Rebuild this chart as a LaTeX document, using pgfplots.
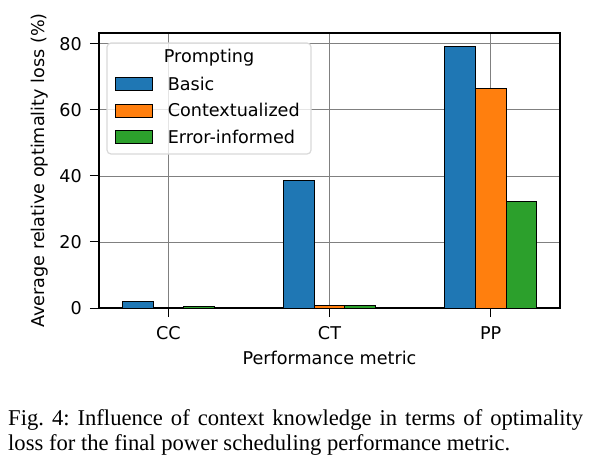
\documentclass[border=0pt]{standalone}
\usepackage{pgfplots}
\pgfplotsset{compat=1.18}
\usepackage{fontspec}
\setmainfont{DejaVu Sans}
\newfontfamily\capfont{Liberation Serif}
\definecolor{tabblue}{HTML}{1F77B4}
\definecolor{taborange}{HTML}{FF7F0E}
\definecolor{tabgreen}{HTML}{2CA02C}
\newcommand{\chartfont}{\fontsize{17.6}{20}\selectfont}
\begin{document}
\begin{tikzpicture}
\path[use as bounding box] (0,0) rectangle (589pt,-464pt);
\begin{axis}[
    at={(99pt,-308pt)}, anchor=south west,
    scale only axis,
    width=461pt, height=275pt,
    xmin=-0.43, xmax=2.43,
    ymin=0, ymax=83.3,
    xtick={0,1,2},
    xticklabels={CC,CT,PP},
    ytick={0,20,40,60,80},
    /pgf/number format/assume math mode=true,
    tick align=outside,
    major tick length=9pt,
    tick style={black, line width=1pt},
    xtick pos=bottom, ytick pos=left,
    axis line style={line width=1.3pt},
    grid=major,
    major grid style={gray, line width=0.9pt},
    every tick label/.append style={font=\chartfont, inner sep=0pt},
    yticklabel style={anchor=east, xshift=-8pt},
    xticklabel style={anchor=base, yshift=-22pt},
    xlabel={Performance metric},
    ylabel={Average relative optimality loss (\%)},
    label style={font=\chartfont, inner sep=0pt},
    xlabel style={at={([yshift=-56pt]axis description cs:0.5,0)}, anchor=base},
    ylabel style={at={([xshift=-51pt]axis description cs:0,0.5)}, anchor=south, rotate=0},
    ybar, bar width=0.19,
    legend style={at={([xshift=8pt,yshift=-28pt]rel axis cs:0.0174,0.9636)}, anchor=north west,
        draw=none, fill=none, font=\chartfont, row sep=0pt, column sep=15pt,
        inner sep=0pt, outer sep=0pt,
        nodes={inner sep=0pt, anchor=west, minimum height=26.5pt}},
    legend cell align=left,
]
\draw[draw=black!15, line width=1.2pt, fill=white, fill opacity=0.8, rounded corners=4pt]
    (rel axis cs:0.0174,0.9636) rectangle (rel axis cs:0.46,0.56);
\node[font=\chartfont] at ([yshift=-15pt]rel axis cs:0.2387,0.9636) {Prompting};
\addplot[fill=tabblue, draw=black, line width=0.8pt, bar shift=-0.19,
    legend image code/.code={\draw[fill=tabblue, draw=black, line width=0.8pt] (0pt,-6.5pt) rectangle (37pt,6.5pt);}]
    coordinates {(0,2.0) (1,38.6) (2,79.3)};
\addlegendentry{Basic}
\addplot[fill=taborange, draw=black, line width=0.8pt, bar shift=0,
    legend image code/.code={\draw[fill=taborange, draw=black, line width=0.8pt] (0pt,-6.5pt) rectangle (37pt,6.5pt);}]
    coordinates {(0,0.1) (1,0.8) (2,66.6)};
\addlegendentry{Contextualized}
\addplot[fill=tabgreen, draw=black, line width=0.8pt, bar shift=0.19,
    legend image code/.code={\draw[fill=tabgreen, draw=black, line width=0.8pt] (0pt,-6.5pt) rectangle (37pt,6.5pt);}]
    coordinates {(0,0.4) (1,0.8) (2,32.2)};
\addlegendentry{Error-informed}
\end{axis}
\node[anchor=base west, inner sep=0pt, text width=575pt, align=justify,
    font=\capfont\fontsize{22.6}{25}\selectfont] at (8pt,-425pt)
    {\frenchspacing\hyphenpenalty=10000 Fig. 4: Influence of context knowledge in terms of optimality loss for the final power scheduling performance metric.};
\end{tikzpicture}
\end{document}
